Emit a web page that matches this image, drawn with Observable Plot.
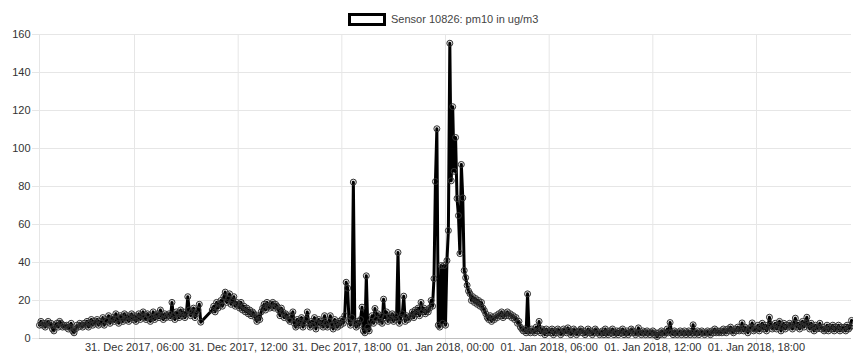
<!DOCTYPE html>
<html>
<head>
<meta charset="utf-8">
<script src="https://cdn.jsdelivr.net/npm/d3@7"></script>
<script src="https://cdn.jsdelivr.net/npm/@observablehq/plot@0.6"></script>
<style>
  html, body { margin: 0; padding: 0; background: #fff; }
  body { font-family: "Helvetica Neue", Helvetica, Arial, "Liberation Sans", sans-serif; width: 853px; }
  #legend { position: relative; height: 30px; }
  #legend .box { position: absolute; left: 348px; top: 13px; width: 38px; height: 13px; box-sizing: border-box; border: 3px solid #000; background: #fff; }
  #legend .lbl { position: absolute; left: 391px; top: 12px; font-size: 11px; line-height: 14px; color: #444; white-space: nowrap; }
  #chart svg { display: block; }
</style>
</head>
<body>
<div id="legend"><span class="box"></span><span class="lbl"></span></div>
<div id="chart"></div>
<script>
// ---- data ----
const seriesLabel = "Sensor 10826: pm10 in ug/m3";
const startTime = "2017-12-31T00:30:00Z";   // first reading
const stepMinutes = 5;                        // sampling interval

// pm10 readings, 31 Dec 2017, 00:30 – 11:55 (null = no reading)
const dec31am = [
  7, 9, 7, 8, 6, 8,
  9, 7, 8, 5, 4, 7, 8, 6, 9, 8, 6, 7,
  6, 7, 5, 6, 8, 4, 3, 5, 7, 6, 8, 7,
  6, 8, 7, 9, 6, 8, 10, 7, 9, 8, 10, 7,
  9, 8, 11, 7, 10, 9, 12, 8, 10, 11, 9, 13,
  10, 8, 12, 11, 9, 13, 10, 12, 9, 11, 13, 10,
  12, 9, 11, 13, 10, 12, 14, 11, 10, 13, 12, 9,
  11, 14, 10, 12, 13, 11, 15, 12, 10, 13, 11, 12,
  13, 11, 19, 12, 10, 14, 13, 11, 15, 12, 14, 11,
  13, 22, 15, 12, 14, 16, 11, 13, 15, 18, 8.6, null,
  null, null, null, null, null, null, 15, 17, 14, 19, 16, 18,
  20, 17, 22, 24.4, 19, 21, 23.5, 18, 20, 22, 17, 19
];
// 31 Dec 2017, 12:00 – 23:55
const dec31pm = [
  18, 16, 19, 15, 17, 14, 16, 13, 15, 12, 14, 13,
  11, 9, 12, 10, 14, 16, 18, 15, 19, 17, 16, 18,
  19, 16, 18, 17, 15, 12, 16, 14, 11, 13, 12, 10,
  9, 12, 14, 8, 6, 10, 7, 9, 11, 6, 8, 10,
  14, 8, 6, 9, 7, 11, 5, 8, 10, 7, 9, 6,
  12, 8, 6, 9, 12, 7, 5, 10, 8, 6, 9, 7,
  10, 8, 12, 29.6, 26.5, 9, 7, 11, 82.3, 8, 6, 9,
  7, 10, 16.5, 4, 3, 33, 6, 4, 9, 12, 8, 15.8,
  10, 13, 9, 12, 8, 20.7, 11, 14, 9, 12, 10, 13,
  9, 12, 10, 45.3, 8, 11, 13, 22.3, 9, 12, 10, 11,
  12, 14, 11, 15, 13, 16, 12, 19, 14, 16, 13, 15,
  14, 16, 20, 17, 31.5, 82.6, 110.4, 7, 6, 38.4, 8, 38.4
];
// 01 Jan 2018, 00:00 – 11:55
const jan01am = [
  7, 41, 56.8, 155.4, 83, 122, 88, 105.8, 73.7, 64.7, 44.7, 91.6,
  74, 35.8, 32, 28, 25, 23.6, 20, 22, 19, 21, 18, 20,
  17, 19, 16, 14.7, 13, 11, 10, 12, 9, 11, 10, 12,
  11, 13, 12, 14, 11, 13, 12, 14, 12, 13, 11, 12,
  10, 11, 8, 9, 6, 5, 4, 5, 3, 23.5, 4, 3,
  5, 4, 3, 6, 4, 9, 3, 5, 4, 2, 5, 3,
  4, 3, 5, 2, 4, 3, 5, 4, 2, 3, 5, 4,
  3, 5.6, 4, 2, 3, 5, 4, 2, 3, 4, 5, 3,
  4, 2, 3, 5, 3, 4, 2, 3, 5, 4, 3, 2,
  3, 4, 2, 5, 3, 2, 4, 3, 5, 2, 3, 4,
  2, 4, 3, 5, 2, 3, 4, 2, 3, 5, 4, 3,
  2, 3, 5.6, 3, 2, 4, 3, 2, 4, 3, 2, 3
];
// 01 Jan 2018, 12:00 – 23:30
const jan01pm = [
  4, 2, 3, 1, 3, 2, 4, 3, 2, 3, 5, 3,
  8.4, 3, 2, 4, 3, 2, 3, 4, 2, 3, 4, 2,
  3, 4, 2, 3, 7.2, 2, 3, 4, 2, 3, 4, 3,
  2, 3, 4, 3, 2, 4, 3, 5, 3, 4, 3, 4,
  3, 5, 4, 3, 5, 4, 6, 4, 3, 5, 4, 6,
  4, 5, 8.2, 4, 6, 5, 3, 5, 6, 8.2, 4, 5,
  5, 7, 4, 6, 8, 5, 7, 4, 6, 11.2, 7, 5,
  6, 8, 5, 7, 9, 4, 6, 8, 5, 7, 6, 8,
  7, 5, 8, 10.7, 6, 8, 5, 7, 9, 6, 8, 11.2,
  7, 5, 8, 6, 4, 7, 5, 6, 8, 5, 6, 4,
  5, 7, 4, 6, 5, 7, 4, 6, 5, 7, 4, 6,
  5, 6, 4, 7, 5, 6, 9.5
];

const yTicks = [0, 20, 40, 60, 80, 100, 120, 140, 160];
const xTickTimes = [
  "2017-12-31T06:00:00Z", "2017-12-31T12:00:00Z", "2017-12-31T18:00:00Z",
  "2018-01-01T00:00:00Z", "2018-01-01T06:00:00Z", "2018-01-01T12:00:00Z", "2018-01-01T18:00:00Z"
];
const xTickLabels = [
  "31. Dec 2017, 06:00", "31. Dec 2017, 12:00", "31. Dec 2017, 18:00",
  "01. Jan 2018, 00:00", "01. Jan 2018, 06:00", "01. Jan 2018, 12:00", "01. Jan 2018, 18:00"
];

// ---- build table ----
const allValues = [...dec31am, ...dec31pm, ...jan01am, ...jan01pm];
const t0 = Date.parse(startTime);
const rows = allValues.map((v, i) => ({ t: new Date(t0 + i * stepMinutes * 60000), v }));
const readings = rows.filter(d => d.v != null);
const tStart = rows[0].t;
const tEnd = rows[rows.length - 1].t;
const xTicks = xTickTimes.map(s => new Date(s));

document.querySelector("#legend .lbl").textContent = seriesLabel;

const grid = "#e6e6e6";
const font = '"Helvetica Neue", Helvetica, Arial, "Liberation Sans", sans-serif';

const chart = Plot.plot({
  width: 853,
  height: 327,
  marginTop: 4,
  marginBottom: 19,
  marginLeft: 39,
  marginRight: 2,
  style: { fontFamily: font, fontSize: "11px", background: "#fff", overflow: "visible" },
  x: { type: "utc", domain: [tStart, tEnd] },
  y: { domain: [0, 160] },
  marks: [
    // horizontal grid
    Plot.ruleY(yTicks.filter(d => d > 0), { stroke: grid }),
    // vertical grid + left border
    Plot.ruleX(xTicks, { stroke: grid }),
    Plot.ruleX([tStart], { stroke: grid }),
    // tick marks
    Plot.axisY(yTicks, { tickSize: 7, tickFormat: () => "", color: grid, label: null }),
    Plot.axisX(xTicks, { tickSize: 7, tickFormat: () => "", color: grid, label: null }),
    // tick labels
    Plot.axisY(yTicks, { tickSize: 0, tickPadding: 9, color: "#333", label: null }),
    Plot.axisX(xTicks, { tickSize: 0, tickPadding: 5, color: "#333", label: null,
      tickFormat: (d, i) => xTickLabels[i] }),
    // zero line
    Plot.ruleY([0], { stroke: "#bfbfbf" }),
    // series
    Plot.line(readings, { x: "t", y: "v", stroke: "#000", strokeWidth: 3, strokeLinejoin: "round" }),
    Plot.dot(readings, { x: "t", y: "v", r: 3, fill: "rgba(0,0,0,0.1)", stroke: "#333", strokeWidth: 1 })
  ]
});
document.getElementById("chart").appendChild(chart);
</script>
</body>
</html>
